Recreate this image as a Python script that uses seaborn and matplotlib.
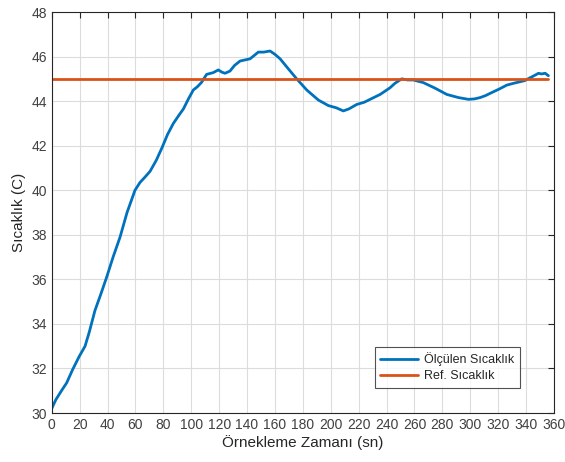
import matplotlib
matplotlib.use("Agg")
import matplotlib.pyplot as plt
import seaborn as sns
import pandas as pd

# Measured temperature (time in s, temperature in C)
time_s = [0, 3, 7, 10.7, 15, 19.8, 23.9, 27, 31, 35, 39.4, 44, 49, 54, 59.7, 63.3,
          67, 70.5, 75, 79, 83, 87.2, 91, 94.4, 98, 101.5, 104.5, 107.5, 111, 115.8,
          119.4, 122, 124.2, 127.8, 131, 135, 142.2, 148.1, 152, 156.5, 160, 163.7,
          169.6, 175.6, 182.8, 191.1, 198.3, 204, 209, 213, 218.6, 224, 230.5, 235.4,
          242.5, 246, 250.9, 255, 259.2, 266.4, 274.8, 283.2, 291.5, 298.7, 303, 307.1,
          311, 316.6, 321, 326.2, 331, 335.7, 339, 342.9, 346, 348.9, 351, 353.7, 356]
temp_c = [30.2, 30.6, 31.0, 31.35, 31.95, 32.55, 33.0, 33.65, 34.6, 35.3, 36.1, 37.0,
          37.9, 39.0, 40.0, 40.35, 40.6, 40.85, 41.35, 41.9, 42.5, 43.0, 43.35, 43.65,
          44.1, 44.5, 44.65, 44.85, 45.2, 45.28, 45.4, 45.3, 45.25, 45.35, 45.6, 45.8,
          45.9, 46.2, 46.2, 46.25, 46.1, 45.9, 45.45, 45.0, 44.5, 44.05, 43.8, 43.7,
          43.56, 43.65, 43.85, 43.95, 44.15, 44.3, 44.6, 44.8, 45.0, 44.95, 44.95,
          44.83, 44.58, 44.3, 44.16, 44.08, 44.1, 44.16, 44.25, 44.42, 44.55, 44.72,
          44.8, 44.87, 44.92, 45.05, 45.15, 45.25, 45.22, 45.25, 45.14]

ref_time = [0, 356]
ref_temp = [45, 45]

x_ticks = list(range(0, 361, 20))
y_ticks = list(range(30, 49, 2))

sns.set_theme(style="white")
plt.rcParams['font.family'] = ['Liberation Sans', 'DejaVu Sans']

fig = plt.figure(figsize=(5.65, 4.62), dpi=100)
ax = fig.add_axes([0.0915, 0.106, 0.889, 0.868])

meas = pd.DataFrame({"t": time_s, "T": temp_c})
ref = pd.DataFrame({"t": ref_time, "T": ref_temp})
sns.lineplot(data=meas, x="t", y="T", ax=ax, color="#0072BD", linewidth=2,
             label="Ölçülen Sıcaklık")
sns.lineplot(data=ref, x="t", y="T", ax=ax, color="#D95319", linewidth=2,
             label="Ref. Sıcaklık")

ax.set_xlim(0, 360)
ax.set_ylim(30, 48)
ax.set_xticks(x_ticks)
ax.set_yticks(y_ticks)
ax.grid(True, color="#DCDCDC", linewidth=0.8)
ax.set_axisbelow(True)
ax.tick_params(direction="in", length=4, width=0.8, colors="#262626",
               labelsize=10, top=True, right=True, labelcolor="#404040")
for s in ax.spines.values():
    s.set_color("#262626")
    s.set_linewidth(0.8)

ax.set_xlabel("Örnekleme Zamanı (sn)", fontsize=11, color="#262626", labelpad=2)
ax.set_ylabel("Sıcaklık (C)", fontsize=11, color="#262626", labelpad=4)

leg = ax.legend(loc="lower right", bbox_to_anchor=(0.945, 0.048), fontsize=9,
                frameon=True, fancybox=False, handlelength=3.0, borderpad=0.45,
                labelspacing=0.3, handletextpad=0.5)
leg.get_frame().set_edgecolor("#262626")
leg.get_frame().set_linewidth(0.8)

fig.savefig("out.png", dpi=100)
